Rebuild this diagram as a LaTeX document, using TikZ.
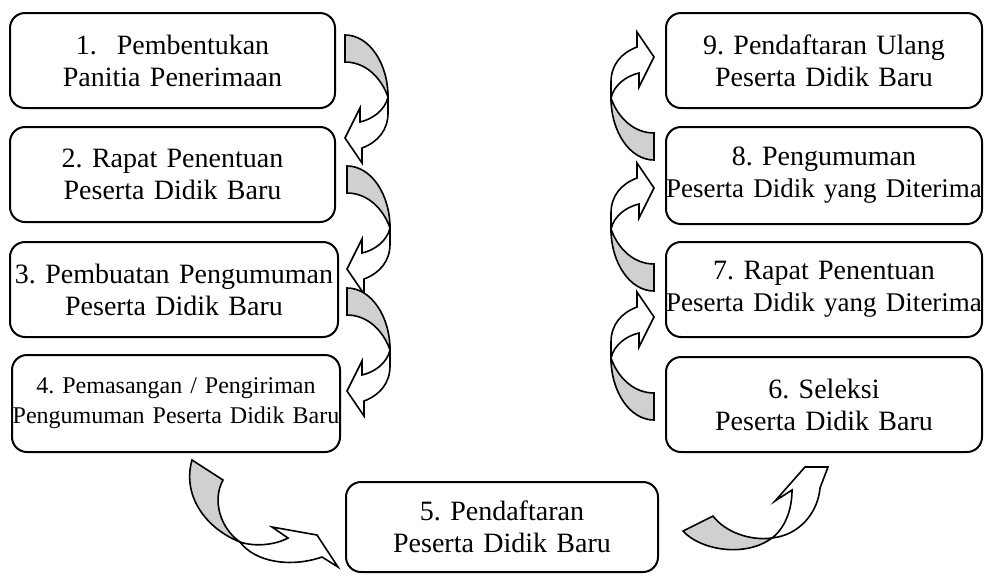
\documentclass[tikz,border=0pt]{standalone}
\usepackage{fontspec}
\setmainfont{Liberation Serif}
\usepackage{tikz}
\usetikzlibrary{calc}
\usepackage{xcolor}
\definecolor{backGray}{RGB}{208, 208, 208}
\newcommand{\oneline}[1]{\makebox[\linewidth]{#1}}

\tikzset{
  box/.style={draw, line width=1pt, rounded corners=7.5pt, align=center, text width=#1,
    inner sep=0pt, minimum height=47.5pt, font=\fontsize{14}{16}\selectfont\frenchspacing},
  back/.style={draw, fill=backGray, line width=0.8pt, line join=miter},
  front/.style={draw, fill=white, line width=0.8pt, line join=miter},
  curvArrow/.pic={
    \draw[back] (0,0) .. controls (24,0) and (43,28) .. (43,62)
      .. controls (36,42) and (20,27) .. (0,27) -- cycle;
    \draw[front] (43,62) .. controls (40,75) and (28,84) .. (15,87) -- (15,73) -- (0,103)
      -- (17,128) -- (17,113) .. controls (33,107) and (43,95) .. (43,78) -- cycle;
  }
}

\begin{document}
\begin{tikzpicture}[x=0.5pt, y=-0.5pt]
  \useasboundingbox (0,0) rectangle (984,575);

  % left column
  \node[box=162.5pt] (b1) at (172.5,60.5) {1.\hspace{10pt}Pembentukan\\Panitia Penerimaan};
  \node[box=162.5pt] (b2) at (172.5,174.5) {2. Rapat Penentuan\\Peserta Didik Baru};
  \node[box=164pt] (b3) at (174,289.5) {\oneline{3. Pembuatan Pengumuman}\\Peserta Didik Baru};
  \node[box=164pt, minimum height=48.5pt, font=\fontsize{12}{15}\selectfont\frenchspacing] (b4) at (176,403.5)
    {4. Pemasangan / Pengiriman\\\oneline{Pengumuman Peserta Didik Baru}};

  % bottom
  \node[box=156pt, minimum height=45pt] (b5) at (502,527) {5. Pendaftaran\\Peserta Didik Baru};

  % right column
  \node[box=158pt] (b6) at (824,404.5) {6. Seleksi\\Peserta Didik Baru};
  \node[box=158pt] (b7) at (824,289.5)
    {7. Rapat Penentuan\\\oneline{\fontsize{13.5}{16}\selectfont Peserta Didik yang Diterima}};
  \node[box=158pt, minimum height=48.5pt] (b8) at (824,175.5)
    {8. Pengumuman\\\oneline{\fontsize{13.5}{16}\selectfont Peserta Didik yang Diterima}};
  \node[box=158pt] (b9) at (824,60.5) {9. Pendaftaran Ulang\\Peserta Didik Baru};

  % curved arrows, left side
  \pic at (345,35) {curvArrow};
  \pic at (347,166) {curvArrow};
  \pic at (347,288) {curvArrow};

  % curved arrows, right side
  \pic[rotate=180] at (654,160) {curvArrow};
  \pic[rotate=180] at (654,291) {curvArrow};
  \pic[rotate=180] at (654,420) {curvArrow};

  % from 4 to 5
  \draw[back] (192,460) -- (223,480) .. controls (212,500) and (220,528) .. (240,542)
    .. controls (205,528) and (182,495) .. (192,460) -- cycle;
  \draw[front] (240,542) .. controls (255,547) and (275,545) .. (288,538) -- (272,527)
    -- (317,535) -- (338,567) -- (322,557) .. controls (290,568) and (255,562) .. (240,542) -- cycle;

  % from 5 to 6
  \draw[back] (683,531) -- (713,516) .. controls (725,532) and (750,541) .. (772,538)
    .. controls (745,558) and (700,550) .. (683,531) -- cycle;
  \draw[front] (772,538) .. controls (785,528) and (792,510) .. (792,490) -- (775,501)
    -- (805,467) -- (828,467) -- (820,488) .. controls (818,512) and (800,535) .. (772,538) -- cycle;
\end{tikzpicture}
\end{document}
